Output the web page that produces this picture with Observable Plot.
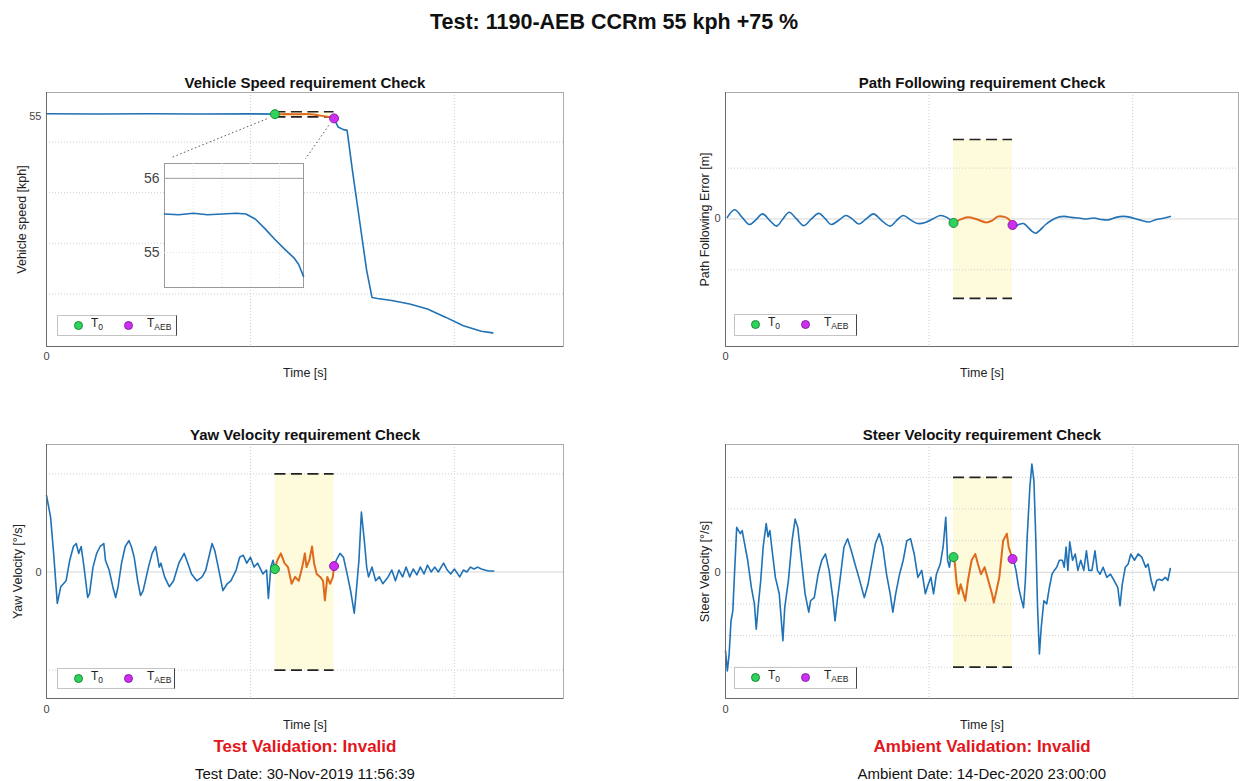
<!DOCTYPE html>
<html><head><meta charset="utf-8">
<script src="https://cdn.jsdelivr.net/npm/d3@7"></script>
<script src="https://cdn.jsdelivr.net/npm/@observablehq/plot@0.6"></script>
<style>
body{margin:0;background:#fff;font-family:"Liberation Sans",Arial,Helvetica,sans-serif;}
#page{position:relative;width:1239px;height:781px;overflow:hidden;background:#fff;}
.abs{position:absolute;white-space:nowrap;}
.legend{position:absolute;background:#fff;border:1px solid #c4c4c4;border-right:1.5px solid #444;box-sizing:border-box;}
.dot{position:absolute;width:9px;height:9px;border-radius:50%;top:5px;box-sizing:border-box;}
.lab{position:absolute;top:0px;font-size:12px;color:#222;}
.lab sub{font-size:8.5px;}
</style></head><body><div id="page"></div>
<script>
// ---------- event times [s] ----------
const T0 = 1.12, TAEB = 1.41;
const gridTimes = [1, 2];

// ---------- Vehicle speed [kph] ----------
const speedPreT  = [0, 0.25, 0.5, 0.75, 1.0, 1.12];
const speedPreV  = [55.6, 55.55, 55.6, 55.55, 55.58, 55.52];
const speedWinT  = [1.12, 1.15, 1.18, 1.21, 1.24, 1.27, 1.29, 1.31, 1.33, 1.35, 1.37, 1.39, 1.40, 1.41];
const speedWinV  = [55.52, 55.51, 55.53, 55.51, 55.52, 55.53, 55.52, 55.45, 55.32, 55.18, 55.05, 54.93, 54.84, 54.68];
const speedPostT = [1.41, 1.43, 1.456, 1.474, 1.5, 1.535, 1.57, 1.596, 1.623, 1.693, 1.781, 1.868, 1.956, 2.044, 2.132, 2.188];
const speedPostV = [54.68, 52.97, 52.46, 52.32, 44.4, 34.5, 24.6, 19.3, 19.1, 18.7, 18.0, 17.0, 15.4, 13.7, 12.6, 12.3];
const speedLimits = [55, 56];
const speedGrid = [20, 30, 40, 50];

// ---------- Path following error [m] ----------
const pathPreT = [0.009,0.045,0.082,0.118,0.149,0.182,0.218,0.251,0.282,0.313,0.349,0.385,0.422,0.458,0.491,0.518,0.555,0.591,0.622,0.655,0.691,0.727,0.767,0.809,0.84,0.873,0.909,0.945,0.982,1.018,1.055,1.087,1.12];
const pathPreV = [0.001,0.0058,0.001,-0.0035,-0.0006,0.0032,-0.001,-0.0045,0,0.0042,0,-0.0042,0,0.0035,0,-0.0035,-0.001,0.0022,0,-0.0032,0,0.0032,-0.001,-0.0045,-0.001,0.0022,-0.0006,-0.0029,-0.0022,0,0.0022,0.001,-0.0025];
const pathWinT = [1.12,1.15,1.19,1.23,1.28,1.31,1.34,1.37,1.39,1.41];
const pathWinV = [-0.0025,-0.0006,0.001,0,-0.0022,-0.001,0.0016,0.0013,0,-0.0038];
const pathPostT = [1.41,1.422,1.44,1.464,1.485,1.505,1.524,1.545,1.573,1.6,1.633,1.664,1.7,1.736,1.773,1.809,1.845,1.882,1.918,1.955,1.991,2.018,2.045,2.082,2.109,2.145,2.185];
const pathPostV = [-0.0038,-0.0048,-0.0035,-0.0029,-0.0051,-0.0077,-0.009,-0.007,-0.0035,-0.001,0.001,0.0016,0.001,0.0006,0,0.0006,-0.0003,-0.0006,0.001,0.0016,0.001,0,-0.001,-0.0019,-0.0006,0.0003,0.0016];
const pathLimits = [-0.05, 0.05];
const pathGrid = [-0.032, 0.032];

// ---------- Yaw velocity [deg/s] ----------
const yawPreT = [0,0.02,0.035,0.053,0.07,0.096,0.114,0.132,0.146,0.158,0.17,0.184,0.202,0.211,0.228,0.246,0.263,0.281,0.289,0.307,0.325,0.339,0.351,0.368,0.386,0.404,0.416,0.43,0.447,0.461,0.474,0.5,0.518,0.535,0.553,0.561,0.579,0.602,0.623,0.649,0.675,0.693,0.711,0.737,0.763,0.781,0.812,0.825,0.842,0.865,0.886,0.904,0.93,0.947,0.965,0.982,1.0,1.018,1.035,1.061,1.079,1.088,1.1,1.111,1.12];
const yawPreV = [0.78,0.56,0.19,-0.32,-0.15,-0.09,0.12,0.26,0.29,0.19,0.26,0.05,-0.26,-0.22,0.05,0.19,0.26,0.29,0.12,0.02,-0.15,-0.26,-0.15,0.09,0.26,0.32,0.26,0.15,-0.09,-0.24,-0.19,0.05,0.19,0.26,0.05,0.09,-0.05,-0.15,-0.09,0.09,0.19,0.09,-0.02,-0.09,-0.05,0.02,0.29,0.22,0.05,-0.19,-0.12,-0.09,0.02,0.15,0.17,0.09,0.15,0.05,0.09,-0.02,0.02,-0.27,0.05,0.12,0.03];
const yawWinT = [1.12,1.132,1.149,1.167,1.184,1.202,1.219,1.237,1.254,1.267,1.275,1.289,1.302,1.312,1.325,1.342,1.356,1.365,1.377,1.391,1.404,1.41];
const yawWinV = [0.03,0.12,0.19,0.09,0.05,-0.12,-0.05,-0.09,0.05,0.19,0.05,0.12,0.26,0.09,-0.02,-0.05,-0.09,-0.29,-0.05,-0.12,-0.05,0.06];
const yawPostT = [1.41,1.421,1.439,1.456,1.474,1.491,1.509,1.518,1.532,1.544,1.553,1.561,1.57,1.579,1.596,1.614,1.632,1.649,1.675,1.693,1.711,1.728,1.746,1.763,1.781,1.798,1.816,1.833,1.851,1.868,1.886,1.904,1.921,1.947,1.965,1.982,2.0,2.026,2.044,2.061,2.079,2.096,2.114,2.132,2.149,2.167,2.193];
const yawPostV = [0.06,0.12,0.19,0.15,-0.02,-0.19,-0.42,-0.22,0.12,0.61,0.43,0.26,0.05,-0.05,0.05,-0.09,-0.05,-0.12,-0.05,0.02,-0.09,0.02,-0.05,0.05,-0.05,0.03,-0.03,0.05,-0.02,0.07,0.0,0.05,0.0,0.09,0.02,-0.02,0.03,-0.05,0.02,0.0,0.05,0.03,0.05,0.03,0.02,0.01,0.01];
const yawLimits = [-1, 1];
const yawGrid = [-1, 1];

// ---------- Steer velocity [deg/s] ----------
const steerPreT = [0,0.009,0.018,0.027,0.036,0.045,0.055,0.064,0.073,0.082,0.091,0.109,0.127,0.142,0.151,0.16,0.173,0.185,0.2,0.209,0.218,0.227,0.245,0.264,0.282,0.291,0.309,0.327,0.342,0.355,0.373,0.391,0.409,0.418,0.436,0.455,0.473,0.491,0.509,0.527,0.538,0.549,0.564,0.582,0.6,0.618,0.636,0.655,0.682,0.7,0.718,0.736,0.755,0.773,0.791,0.809,0.822,0.836,0.855,0.873,0.891,0.909,0.927,0.945,0.964,0.982,0.996,1.009,1.022,1.036,1.055,1.069,1.082,1.091,1.1,1.109,1.12];
const steerPreV = [-12.4,-15.6,-12.9,-7.7,-6.1,0.3,7.1,6.6,6.1,6.6,5.0,1.9,-2.4,-5.0,-9.0,-5.6,-1.3,4.0,7.7,5.6,6.6,4.0,-0.8,-3.4,-10.8,-5.6,-1.3,5.0,8.4,7.1,1.9,-3.4,-6.3,-4.5,-4.0,-0.3,1.9,2.9,0.3,-4.0,-7.7,-4.5,-0.8,4.0,5.3,3.4,1.3,-0.8,-4.0,-1.9,1.3,4.5,6.1,4.0,-0.3,-3.4,-6.3,-3.4,-0.3,1.9,5.0,5.3,2.9,-0.8,0.3,-3.4,-1.9,-0.8,-3.4,-0.3,1.3,4.0,8.7,1.9,0.8,2.9,2.4];
const steerWinT = [1.12,1.127,1.136,1.145,1.155,1.164,1.178,1.191,1.209,1.227,1.24,1.255,1.273,1.291,1.309,1.318,1.331,1.345,1.364,1.382,1.391,1.41];
const steerWinV = [2.4,1.3,-1.9,-3.4,-1.9,-2.9,-4.5,-1.3,1.9,2.9,1.3,-0.3,0.8,-1.3,-3.4,-4.8,-2.9,-0.8,5.0,6.1,4.0,2.1];
const steerPostT = [1.41,1.415,1.427,1.44,1.455,1.464,1.473,1.482,1.495,1.505,1.515,1.524,1.533,1.542,1.551,1.564,1.578,1.591,1.604,1.615,1.627,1.64,1.655,1.664,1.673,1.682,1.691,1.705,1.718,1.731,1.745,1.76,1.773,1.785,1.8,1.815,1.827,1.84,1.855,1.873,1.891,1.909,1.927,1.938,1.949,1.964,1.978,1.991,2.009,2.027,2.045,2.064,2.076,2.091,2.105,2.118,2.131,2.145,2.16,2.173,2.185];
const steerPostV = [2.1,1.9,0.3,-2.4,-4.5,-5.6,-1.3,5.6,13.4,17.1,14.5,5.6,-5.6,-12.9,-8.7,-4.5,-5.0,-2.4,-0.3,0.3,0.8,1.9,1.9,0.8,4.0,0.3,4.8,1.9,2.9,0.3,1.9,0.3,3.4,0.3,0.3,3.4,0.3,-0.3,0.8,-0.8,-0.3,-1.3,-2.4,-5.3,-1.9,0.8,1.3,2.9,1.9,2.9,2.4,0.8,1.3,-1.3,-2.9,-1.3,-1.1,-1.3,-0.8,-1.3,0.6];
const steerLimits = [-15, 15];
const steerGrid = [-15, -10, -5, 5, 10, 15];

// ---------- texts ----------
const mainTitle = "Test: 1190-AEB CCRm 55 kph +75 %";
const titles = ["Vehicle Speed requirement Check", "Path Following requirement Check", "Yaw Velocity requirement Check", "Steer Velocity requirement Check"];
const yLabels = ["Vehicle speed [kph]", "Path Following Error [m]", "Yaw Velocity [°/s]", "Steer Velocity [°/s]"];
const xLabel = "Time [s]";
const validation = ["Test Validation: Invalid", "Ambient Validation: Invalid"];
const dates = ["Test Date: 30-Nov-2019 11:56:39", "Ambient Date: 14-Dec-2020 23:00:00"];

// ---------- styles ----------
const BLUE = "#1f72b6", ORANGE = "#dd6a1e", GREEN = "#2fd35b", MAGENTA = "#cc2ff0";
const FONT = "Liberation Sans, Arial, Helvetica, sans-serif";
const rows = (T, V) => T.map((t, i) => ({t, v: V[i]}));

const page = document.getElementById("page");
function place(el, left, top) {
  el.style.position = "absolute"; el.style.left = left + "px"; el.style.top = top + "px";
  page.appendChild(el); return el;
}
function addText(txt, cx, cy, css) {
  const d = document.createElement("div");
  d.className = "abs"; d.textContent = txt; Object.assign(d.style, css);
  page.appendChild(d);
  const w = d.offsetWidth, h = d.offsetHeight;
  d.style.left = (cx - w / 2) + "px"; d.style.top = (cy - h / 2) + "px";
}
function addLegend(left, top, w, h) {
  const L = document.createElement("div");
  L.className = "legend";
  Object.assign(L.style, {left: left + "px", top: top + "px", width: w + "px", height: h + "px"});
  L.innerHTML =
    `<span class="dot" style="left:16px;background:${GREEN};border:1px solid #178a3a"></span>` +
    `<span class="lab" style="left:33px">T<sub>0</sub></span>` +
    `<span class="dot" style="left:66px;background:${MAGENTA};border:1px solid #8a1fa6"></span>` +
    `<span class="lab" style="left:89px">T<sub>AEB</sub></span>`;
  page.appendChild(L);
}

function panel(c) {
  const marks = [];
  const curve = c.curve || "linear";
  marks.push(Plot.rect([{}], {x1: () => T0, x2: () => TAEB, y1: () => c.limits[0], y2: () => c.limits[1], fill: "#fdfbdb"}));
  marks.push(Plot.ruleX(gridTimes, {stroke: "#cdcdcd", strokeDasharray: "1,2"}));
  marks.push(Plot.ruleY(c.grid, {stroke: "#cdcdcd", strokeDasharray: "1,2"}));
  if (c.zero) marks.push(Plot.ruleY([0], {stroke: "#d6d6d6"}));
  marks.push(Plot.ruleY(c.limits, {x1: () => T0, x2: () => TAEB, stroke: "#222", strokeWidth: 1.7, strokeDasharray: "11,5.5"}));
  marks.push(Plot.line(rows(c.pre[0], c.pre[1]), {x: "t", y: "v", stroke: BLUE, strokeWidth: 1.6, curve}));
  marks.push(Plot.line(rows(c.post[0], c.post[1]), {x: "t", y: "v", stroke: BLUE, strokeWidth: 1.6, curve}));
  marks.push(Plot.line(rows(c.win[0], c.win[1]), {x: "t", y: "v", stroke: ORANGE, strokeWidth: 2, curve}));
  if (c.extra) marks.push(...c.extra);
  const w = c.win;
  marks.push(Plot.dot([{t: w[0][0], v: w[1][0]}], {x: "t", y: "v", r: 4.5, fill: GREEN, stroke: "#178a3a", strokeWidth: 1}));
  marks.push(Plot.dot([{t: w[0][w[0].length - 1], v: w[1][w[1].length - 1]}], {x: "t", y: "v", r: 4.5, fill: MAGENTA, stroke: "#8a1fa6", strokeWidth: 1}));
  marks.push(Plot.frame({stroke: "#ababab"}));
  marks.push(Plot.ruleX([c.x[0]], {stroke: "#6a6a6a"}));
  marks.push(Plot.ruleY([c.y[0]], {stroke: "#6a6a6a"}));
  // texts
  marks.push(Plot.text([c.title], {text: d => d, frameAnchor: "top", dy: -9, lineAnchor: "middle", textAnchor: "middle", fontSize: 15, fontWeight: "bold", fill: "#111"}));
  marks.push(Plot.text([xLabel], {text: d => d, frameAnchor: "bottom", dy: 26, lineAnchor: "middle", textAnchor: "middle", fontSize: 12.5, fill: "#222"}));
  marks.push(Plot.text([c.ylabel], {text: d => d, frameAnchor: "left", rotate: -90, dx: c.ydx, lineAnchor: "middle", textAnchor: "middle", fontSize: 12.5, fill: "#222"}));
  marks.push(Plot.text([0], {x: d => d, text: d => String(d), frameAnchor: "bottom", dy: c.xdy, lineAnchor: "middle", textAnchor: "middle", fontSize: 11, fill: "#444"}));
  marks.push(Plot.text(c.yticks, {y: d => d, text: d => String(d), frameAnchor: "left", dx: -5, textAnchor: "end", lineAnchor: "middle", fontSize: 11, fill: "#444"}));
  const svg = Plot.plot({
    width: c.w, height: c.h,
    marginLeft: c.m[0], marginRight: c.m[1], marginTop: c.m[2], marginBottom: c.m[3],
    x: {domain: c.x, axis: null}, y: {domain: c.y, axis: null},
    style: {fontFamily: FONT, background: "transparent", overflow: "visible"},
    marks
  });
  place(svg, c.left, c.top);
}

// main title
addText(mainTitle, 614, 22, {fontSize: "21.5px", fontWeight: "bold", color: "#111"});

// Top-left: vehicle speed
panel({
  left: 0, top: 60, w: 600, h: 330, m: [46, 37, 32, 44],
  x: [0, 2.535], y: [9.6, 59.8], zero: false,
  pre: [speedPreT, speedPreV], win: [speedWinT, speedWinV], post: [speedPostT, speedPostV],
  limits: speedLimits, grid: speedGrid, yticks: [55],
  title: titles[0], ylabel: yLabels[0], ydx: -25, xdy: 10,
  extra: [Plot.link([{x1: 1.08, y1: 54.6, x2: 0.616, y2: 47.0}, {x1: 1.384, y1: 53.3, x2: 1.27, y2: 46.7}],
    {x1: "x1", y1: "y1", x2: "x2", y2: "y2", stroke: "#555", strokeWidth: 1, strokeDasharray: "1.5,2.5"})]
});
// Inset (zoom of the T0..TAEB window)
{
  const svg = Plot.plot({
    width: 180, height: 145, marginLeft: 34, marginRight: 7, marginTop: 13, marginBottom: 8,
    x: {domain: [T0, TAEB], axis: null}, y: {domain: [54.53, 56.2], axis: null},
    style: {fontFamily: FONT, background: "transparent", overflow: "visible"},
    marks: [
      Plot.frame({fill: "white", stroke: "#9a9a9a"}),
      Plot.ruleX([1.18, 1.24, 1.30, 1.36], {stroke: "#e4e4e4", strokeDasharray: "1,2"}),
      Plot.ruleY([55], {stroke: "#e4e4e4", strokeDasharray: "1,2"}),
      Plot.ruleY([56], {stroke: "#9a9a9a"}),
      Plot.line(rows(speedWinT, speedWinV), {x: "t", y: "v", stroke: BLUE, strokeWidth: 1.6}),
      Plot.text([55, 56], {y: d => d, text: d => String(d), frameAnchor: "left", dx: -5, textAnchor: "end", lineAnchor: "middle", fontSize: 14, fill: "#444"})
    ]
  });
  place(svg, 130, 150);
}
addLegend(57, 315, 120, 21);

// Top-right: path following
panel({
  left: 640, top: 60, w: 599, h: 330, m: [85, 1, 32, 44],
  x: [0, 2.52], y: [-0.0803, 0.0796], zero: true, curve: "catmull-rom",
  pre: [pathPreT, pathPreV], win: [pathWinT, pathWinV], post: [pathPostT, pathPostV],
  limits: pathLimits, grid: pathGrid, yticks: [0],
  title: titles[1], ylabel: yLabels[1], ydx: -21, xdy: 10
});
addLegend(734, 314, 123, 22);

// Bottom-left: yaw velocity
panel({
  left: 0, top: 410, w: 600, h: 330, m: [46, 37, 34, 42],
  x: [0, 2.535], y: [-1.29, 1.30], zero: true,
  pre: [yawPreT, yawPreV], win: [yawWinT, yawWinV], post: [yawPostT, yawPostV],
  limits: yawLimits, grid: yawGrid, yticks: [0],
  title: titles[2], ylabel: yLabels[2], ydx: -29, xdy: 11
});
addLegend(57, 668, 118, 21);

// Bottom-right: steer velocity
panel({
  left: 640, top: 410, w: 599, h: 330, m: [85, 1, 34, 42],
  x: [0, 2.52], y: [-19.95, 20.2], zero: true,
  pre: [steerPreT, steerPreV], win: [steerWinT, steerWinV], post: [steerPostT, steerPostV],
  limits: steerLimits, grid: steerGrid, yticks: [0],
  title: titles[3], ylabel: yLabels[3], ydx: -21, xdy: 11
});
addLegend(734, 667, 123, 22);

// validation + dates
addText(validation[0], 305, 747, {fontSize: "17px", fontWeight: "bold", color: "#e3161c"});
addText(validation[1], 982, 747, {fontSize: "17px", fontWeight: "bold", color: "#e3161c"});
addText(dates[0], 305, 773, {fontSize: "15px", color: "#111"});
addText(dates[1], 982, 773, {fontSize: "15px", color: "#111"});
</script></body></html>
